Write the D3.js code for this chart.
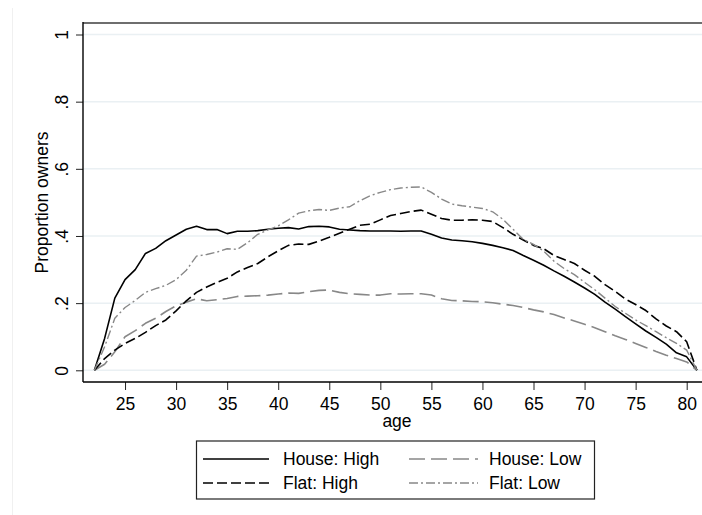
<!DOCTYPE html>
<html>
<head>
<meta charset="utf-8">
<script src="https://cdn.jsdelivr.net/npm/d3@7"></script>
<style>
  body { margin: 0; background: #fff; }
  text { font-family: "Liberation Sans", Arial, sans-serif; }
</style>
</head>
<body>
<script>
var width = 702;
var height = 515;

// ages on x
var ages = [22,23,24,25,26,27,28,29,30,31,32,33,34,35,36,37,38,39,40,41,
  42,43,44,45,46,47,48,49,50,51,52,53,54,55,56,57,58,59,60,61,
  62,63,64,65,66,67,68,69,70,71,72,73,74,75,76,77,78,79,80,81];

var houseHigh = [0,0.095,0.215,0.27,0.30,0.348,0.363,0.386,0.403,0.42,
  0.429,0.419,0.419,0.407,0.414,0.414,0.416,0.42,0.423,0.425,
  0.421,0.428,0.429,0.427,0.42,0.418,0.416,0.415,0.415,0.415,
  0.414,0.415,0.415,0.405,0.394,0.388,0.386,0.383,0.378,0.372,
  0.365,0.357,0.342,0.328,0.313,0.296,0.28,0.263,0.245,0.226,
  0.203,0.182,0.16,0.138,0.117,0.098,0.078,0.052,0.04,0];

var houseLow = [0,0.018,0.055,0.1,0.118,0.14,0.155,0.175,0.192,0.203,
  0.213,0.207,0.21,0.214,0.22,0.221,0.222,0.224,0.227,0.23,
  0.229,0.234,0.238,0.239,0.232,0.228,0.226,0.224,0.224,0.228,
  0.227,0.228,0.228,0.224,0.213,0.208,0.207,0.205,0.204,0.201,
  0.197,0.193,0.187,0.18,0.174,0.166,0.156,0.147,0.137,0.127,
  0.115,0.103,0.092,0.08,0.068,0.056,0.045,0.035,0.025,0];

var flatHigh = [0,0.035,0.06,0.08,0.095,0.113,0.133,0.15,0.177,0.207,
  0.232,0.248,0.262,0.274,0.293,0.306,0.318,0.338,0.356,0.372,
  0.376,0.375,0.385,0.396,0.408,0.42,0.432,0.435,0.448,0.461,
  0.467,0.473,0.477,0.465,0.452,0.447,0.447,0.448,0.447,0.443,
  0.425,0.405,0.388,0.372,0.362,0.342,0.33,0.318,0.298,0.28,
  0.255,0.235,0.212,0.196,0.178,0.153,0.132,0.115,0.085,0];

var flatLow = [0,0.07,0.155,0.187,0.208,0.232,0.243,0.253,0.27,0.298,
  0.34,0.345,0.352,0.362,0.36,0.38,0.405,0.418,0.43,0.448,
  0.468,0.475,0.479,0.476,0.483,0.487,0.505,0.52,0.53,0.538,
  0.543,0.545,0.546,0.53,0.51,0.495,0.49,0.486,0.482,0.472,
  0.45,0.42,0.39,0.375,0.355,0.325,0.303,0.285,0.262,0.24,
  0.215,0.19,0.17,0.15,0.133,0.115,0.097,0.08,0.06,0];

var xTicks = [25,30,35,40,45,50,55,60,65,70,75,80];
var yTicks = [0,0.2,0.4,0.6,0.8,1];
var yTickLabels = ["0",".2",".4",".6",".8","1"];

var seriesNames = ["House: High","House: Low","Flat: High","Flat: Low"];
var seriesValues = [houseHigh, houseLow, flatHigh, flatLow];
var seriesStyle = [
  {color:"#000", dash:null, w:1.6},
  {color:"#888", dash:"16,6", w:1.6},
  {color:"#000", dash:"10,4", w:1.6},
  {color:"#888", dash:"9,3,2,3", w:1.4}
];

var plot = {left:83, right:711, top:23, bottom:382};

var svg = d3.select("body").append("svg")
  .attr("width", width)
  .attr("height", height);

// faint outer region edge
svg.append("line")
  .attr("x1", 12.5).attr("x2", 12.5)
  .attr("y1", 8).attr("y2", height)
  .attr("stroke", "#f0f0f0");

var x = d3.scaleLinear().domain([22, 81]).range([94.4, 696.9]);
var y = d3.scaleLinear().domain([0, 1]).range([370.3, 34.5]);

// grid
svg.selectAll(".grid")
  .data(yTicks)
  .enter().append("line")
  .attr("class", "grid")
  .attr("x1", plot.left).attr("x2", plot.right)
  .attr("y1", function(d) { return y(d); })
  .attr("y2", function(d) { return y(d); })
  .attr("stroke", "#eaf0f3")
  .attr("stroke-width", 1.5);

// top border
svg.append("line")
  .attr("x1", plot.left).attr("x2", plot.right)
  .attr("y1", plot.top).attr("y2", plot.top)
  .attr("stroke", "#6e6e6e")
  .attr("stroke-width", 2);

// lines
var line = d3.line()
  .x(function(d) { return x(d[0]); })
  .y(function(d) { return y(d[1]); });

seriesValues.forEach(function(vals, i) {
  var pts = ages.map(function(a, j) { return [a, vals[j]]; });
  svg.append("path")
    .datum(pts)
    .attr("d", line)
    .attr("fill", "none")
    .attr("stroke", seriesStyle[i].color)
    .attr("stroke-width", seriesStyle[i].w)
    .attr("stroke-dasharray", seriesStyle[i].dash)
    .attr("stroke-linejoin", "round");
});

// y axis
var yAxis = d3.axisLeft(y)
  .tickValues(yTicks)
  .tickSize(7)
  .tickFormat(function(d, i) { return yTickLabels[i]; });

var gy = svg.append("g")
  .attr("transform", "translate(" + plot.left + ",0)")
  .call(yAxis);
gy.select(".domain").remove();
gy.selectAll(".tick line").attr("stroke", "#222");
gy.selectAll(".tick text")
  .attr("transform", "rotate(-90)")
  .attr("x", 0)
  .attr("y", -21.5)
  .attr("dy", "0.36em")
  .attr("text-anchor", "middle")
  .attr("font-size", "17.5px")
  .attr("fill", "#000");
svg.append("line")
  .attr("x1", plot.left).attr("x2", plot.left)
  .attr("y1", plot.top - 1).attr("y2", plot.bottom)
  .attr("stroke", "#000")
  .attr("stroke-width", 1.4);

// x axis
var xAxis = d3.axisBottom(x)
  .tickValues(xTicks)
  .tickSize(8)
  .tickPadding(8)
  .tickFormat(d3.format("d"));

var gx = svg.append("g")
  .attr("transform", "translate(0," + plot.bottom + ")")
  .call(xAxis);
gx.select(".domain").remove();
gx.selectAll(".tick line").attr("stroke", "#222");
gx.selectAll(".tick text")
  .attr("font-size", "17.5px")
  .attr("fill", "#000");
svg.append("line")
  .attr("x1", plot.left).attr("x2", plot.right)
  .attr("y1", plot.bottom).attr("y2", plot.bottom)
  .attr("stroke", "#000")
  .attr("stroke-width", 1.4);

// axis titles
svg.append("text")
  .attr("x", (plot.left + plot.right) / 2)
  .attr("y", 427)
  .attr("text-anchor", "middle")
  .attr("font-size", "17.5px")
  .text("age");

svg.append("text")
  .attr("transform", "translate(48," + ((plot.top + plot.bottom) / 2) + ") rotate(-90)")
  .attr("text-anchor", "middle")
  .attr("font-size", "17.5px")
  .text("Proportion owners");

// legend
var legend = svg.append("g");
legend.append("rect")
  .attr("x", 196.5).attr("y", 441)
  .attr("width", 398).attr("height", 58)
  .attr("fill", "#fff")
  .attr("stroke", "#222")
  .attr("stroke-width", 1.2);

var legPos = [
  {x1:203, x2:269, tx:283, y:459},
  {x1:409, x2:478, tx:489, y:459},
  {x1:203, x2:269, tx:283, y:483},
  {x1:409, x2:478, tx:489, y:483}
];

seriesNames.forEach(function(name, i) {
  var p = legPos[i];
  legend.append("line")
    .attr("x1", p.x1).attr("x2", p.x2)
    .attr("y1", p.y).attr("y2", p.y)
    .attr("stroke", seriesStyle[i].color)
    .attr("stroke-width", seriesStyle[i].w)
    .attr("stroke-dasharray", seriesStyle[i].dash);
  legend.append("text")
    .attr("x", p.tx)
    .attr("y", p.y)
    .attr("dy", "0.36em")
    .attr("font-size", "17.5px")
    .text(name);
});
</script>
</body>
</html>
